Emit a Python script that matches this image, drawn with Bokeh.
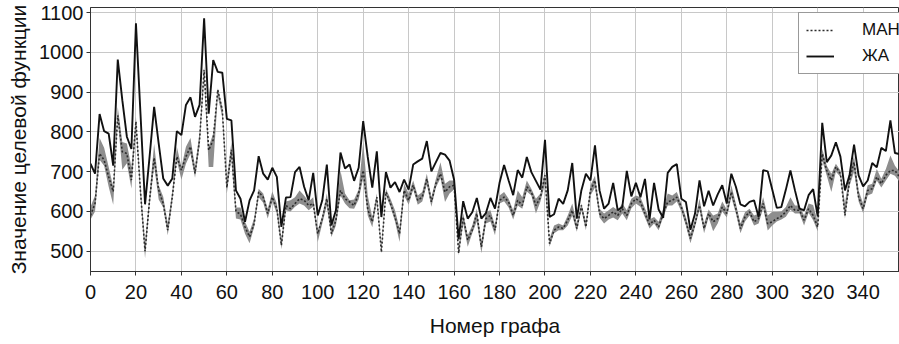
from bokeh.plotting import figure
from bokeh.models import Range1d, FixedTicker, Legend, LegendItem, ColumnDataSource
from bokeh.embed import file_html
from bokeh.resources import INLINE

# graph numbers (every second graph is plotted)
graph_no = list(range(0, 357, 2))

# greedy algorithm (ЖА) objective values
zha = [
    720, 695, 845, 802, 796, 715, 982, 880, 788, 757,
    1073, 845, 618, 738, 863, 771, 683, 665, 683, 802,
    792, 868, 887, 838, 868, 1086, 846, 981, 951, 949,
    833, 829, 653, 632, 574, 628, 653, 739, 695, 680,
    710, 687, 561, 635, 636, 699, 712, 662, 628, 697,
    590, 628, 718, 565, 603, 748, 708, 718, 677, 710,
    827, 737, 660, 751, 586, 699, 660, 674, 649, 680,
    655, 718, 726, 733, 777, 701, 724, 747, 743, 728,
    680, 530, 626, 582, 598, 634, 582, 596, 634, 607,
    672, 717, 678, 641, 704, 685, 737, 699, 677, 655,
    780, 586, 593, 632, 619, 653, 722, 582, 653, 695,
    678, 766, 653, 607, 620, 672, 603, 611, 702, 638,
    672, 636, 682, 580, 672, 605, 584, 697, 712, 719,
    632, 624, 554, 594, 678, 613, 652, 615, 643, 666,
    620, 695, 662, 618, 613, 624, 628, 586, 704, 701,
    655, 609, 611, 655, 703, 653, 607, 603, 641, 656,
    588, 823, 724, 741, 774, 738, 653, 691, 768, 691,
    663, 678, 722, 711, 760, 752, 829, 747, 744,
]

# ant algorithm (МАН) mean values
mah = [
    590, 620, 746, 729, 687, 650, 842, 750, 746, 679,
    826, 650, 500, 629, 735, 654, 620, 553, 637, 738,
    704, 738, 763, 696, 780, 956, 754, 780, 906, 855,
    660, 755, 600, 593, 561, 536, 569, 649, 636, 595,
    636, 607, 515, 615, 607, 620, 632, 628, 615, 620,
    544, 582, 632, 544, 578, 653, 632, 624, 615, 645,
    703, 605, 574, 636, 498, 649, 620, 586, 544, 653,
    628, 666, 628, 636, 682, 624, 670, 695, 649, 662,
    666, 495, 586, 528, 553, 595, 511, 582, 590, 553,
    628, 636, 624, 590, 628, 615, 662, 649, 615, 636,
    691, 519, 553, 561, 557, 578, 603, 557, 615, 561,
    653, 678, 595, 582, 590, 599, 590, 607, 590, 620,
    632, 624, 595, 567, 578, 561, 595, 624, 628, 636,
    611, 574, 532, 569, 615, 557, 595, 574, 582, 611,
    595, 649, 607, 557, 586, 599, 574, 582, 620, 569,
    574, 582, 588, 599, 615, 603, 603, 578, 607, 590,
    561, 745, 703, 678, 712, 695, 590, 678, 724, 636,
    607, 653, 657, 687, 670, 691, 703, 703, 687,
]

# МАН spread: lower bound
mah_lo = [
    580, 600, 730, 715, 662, 617, 830, 705, 721, 658,
    812, 635, 482, 615, 715, 630, 610, 540, 625, 728,
    680, 720, 745, 685, 765, 940, 712, 712, 889, 838,
    645, 735, 582, 580, 544, 520, 560, 636, 622, 582,
    625, 595, 505, 603, 600, 612, 620, 615, 603, 612,
    523, 570, 615, 536, 565, 640, 620, 608, 607, 630,
    685, 590, 560, 626, 494, 640, 612, 575, 523, 640,
    617, 655, 617, 625, 668, 612, 660, 684, 624, 645,
    655, 490, 570, 511, 545, 575, 495, 570, 575, 540,
    620, 626, 610, 580, 615, 607, 650, 640, 595, 625,
    670, 511, 545, 553, 553, 565, 590, 549, 603, 553,
    640, 660, 585, 570, 580, 585, 578, 595, 578, 608,
    620, 612, 585, 557, 570, 553, 585, 615, 615, 625,
    600, 565, 520, 560, 605, 545, 585, 550, 570, 600,
    585, 636, 595, 545, 575, 590, 565, 570, 608, 552,
    565, 575, 580, 587, 604, 595, 595, 565, 597, 578,
    550, 728, 690, 649, 700, 687, 582, 664, 700, 625,
    596, 640, 645, 678, 660, 678, 695, 690, 675,
]

# МАН spread: upper bound
mah_hi = [
    612, 640, 785, 760, 712, 662, 863, 775, 771, 712,
    838, 665, 520, 645, 770, 666, 637, 570, 650, 763,
    712, 763, 785, 712, 800, 965, 763, 796, 910, 863,
    680, 775, 610, 610, 574, 549, 582, 657, 645, 607,
    650, 620, 530, 625, 628, 636, 653, 640, 625, 636,
    553, 590, 645, 557, 590, 703, 645, 628, 630, 655,
    775, 640, 585, 645, 511, 657, 632, 603, 557, 670,
    645, 678, 640, 649, 695, 636, 682, 724, 670, 678,
    678, 510, 595, 540, 565, 607, 524, 599, 603, 565,
    640, 649, 632, 603, 653, 636, 678, 657, 632, 645,
    703, 532, 565, 570, 565, 590, 620, 570, 620, 574,
    666, 690, 607, 595, 603, 611, 603, 620, 603, 632,
    640, 636, 608, 580, 586, 574, 607, 645, 640, 649,
    620, 586, 545, 580, 632, 570, 605, 590, 595, 625,
    605, 666, 620, 570, 598, 607, 590, 595, 636, 590,
    599, 599, 600, 611, 636, 615, 615, 590, 620, 616,
    574, 758, 715, 695, 720, 703, 620, 695, 740, 653,
    620, 666, 670, 707, 682, 707, 741, 715, 700,
]

x_ticks = [0, 20, 40, 60, 80, 100, 120, 140, 160, 180,
           200, 220, 240, 260, 280, 300, 320, 340]
y_ticks = [500, 600, 700, 800, 900, 1000, 1100]

FONT = "Liberation Sans"

src = ColumnDataSource(dict(x=graph_no, zha=zha, mah=mah, lo=mah_lo, hi=mah_hi))

p = figure(
    width=899, height=344,
    output_backend="svg", toolbar_location=None,
    x_range=Range1d(0, 356), y_range=Range1d(449, 1113),
    min_border_left=90, min_border_right=0,
    min_border_top=7, min_border_bottom=73,
    background_fill_color="white", border_fill_color="white",
)

# spread band, mean of МАН (dotted), greedy ЖА (solid)
p.varea(x="x", y1="lo", y2="hi", source=src, fill_color="#8e8e8e", fill_alpha=1.0)
r_mah = p.line("x", "mah", source=src, line_color="#2b2b2b", line_width=1.6,
               line_dash="2 2")
r_zha = p.line("x", "zha", source=src, line_color="#111111", line_width=1.9)

# axes
p.xaxis.ticker = FixedTicker(ticks=x_ticks)
p.yaxis.ticker = FixedTicker(ticks=y_ticks)
p.xaxis.axis_label = "Номер графа"
p.yaxis.axis_label = "Значение целевой функции"

for ax in (p.xaxis, p.yaxis):
    ax.axis_label_text_font = FONT
    ax.axis_label_text_font_size = "21px"
    ax.axis_label_text_font_style = "normal"
    ax.axis_label_text_color = "#111111"
    ax.major_label_text_font = FONT
    ax.major_label_text_font_size = "20px"
    ax.major_label_text_color = "#111111"
    ax.axis_line_color = "#333333"
    ax.axis_line_width = 1
    ax.major_tick_line_color = "#333333"
    ax.major_tick_out = 4
    ax.major_tick_in = 0
    ax.minor_tick_out = 0
    ax.minor_tick_in = 0

p.xaxis.major_label_standoff = 9
p.xaxis.axis_label_standoff = 12
p.yaxis.major_label_standoff = 3
p.yaxis.axis_label_standoff = 6

p.xgrid.grid_line_color = "#c8c8c8"
p.ygrid.grid_line_color = "#c8c8c8"
p.xgrid.grid_line_width = 1
p.ygrid.grid_line_width = 1

p.outline_line_color = "#333333"
p.outline_line_width = 1

legend = Legend(
    items=[LegendItem(label="МАН", renderers=[r_mah]),
           LegendItem(label="ЖА", renderers=[r_zha])],
    location=(708, 197),
    label_text_font=FONT, label_text_font_size="17px", label_text_color="#111111",
    glyph_width=28, glyph_height=20, label_height=20, label_width=40,
    label_standoff=28, padding=7, spacing=6, margin=0,
    border_line_color="#333333", border_line_width=1.5,
    background_fill_color="white", background_fill_alpha=1.0,
)
p.add_layout(legend)

open("out.html", "w").write(file_html(p, INLINE))
